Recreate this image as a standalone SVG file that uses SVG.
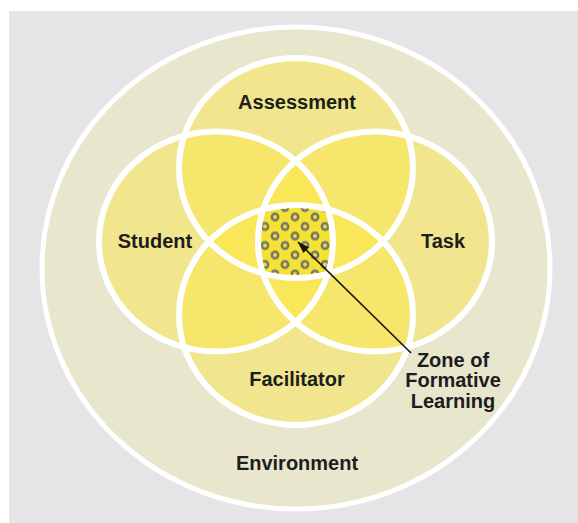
<svg xmlns="http://www.w3.org/2000/svg" width="578" height="523" viewBox="0 0 578 523">
  <defs>
    <style>
      .bg { fill: #ffffff; }
      .panel { fill: #e5e5e7; }
      .env { fill: #e8e6cd; stroke: #ffffff; stroke-width: 5; }
      .fillc { fill: #fce643; fill-opacity: 0.46; stroke: none; }
      .ring { fill: none; stroke: #ffffff; stroke-width: 6; }
      .lbl { font-family: "Liberation Sans", Arial, sans-serif; font-weight: bold; font-size: 20px; fill: #1d1d1d; text-anchor: middle; }
      .conn { stroke: #141414; stroke-width: 1.6; fill: none; }
    </style>
    <pattern id="dots" patternUnits="userSpaceOnUse" x="265" y="207.5" width="20" height="19">
      <rect width="20" height="19" fill="#f4e334"/>
      <g fill="none" stroke="#77756c" stroke-width="2.5">
        <circle cx="0" cy="0" r="3.2"/>
        <circle cx="20" cy="0" r="3.2"/>
        <circle cx="0" cy="19" r="3.2"/>
        <circle cx="20" cy="19" r="3.2"/>
        <circle cx="10" cy="9.5" r="3.2"/>
      </g>
    </pattern>
    <clipPath id="cA"><ellipse cx="296" cy="168" rx="117" ry="110"/></clipPath>
    <clipPath id="cF"><ellipse cx="296" cy="315" rx="117" ry="110"/></clipPath>
    <clipPath id="cS"><ellipse cx="216" cy="241.5" rx="117" ry="110"/></clipPath>
    <clipPath id="cT"><ellipse cx="375" cy="241.5" rx="117" ry="110"/></clipPath>
    <marker id="arrow" viewBox="0 0 12 8" refX="11.5" refY="4" markerWidth="12" markerHeight="8" markerUnits="userSpaceOnUse" orient="auto">
      <path d="M0,0 L12,4 L0,8 Z" fill="#141414"/>
    </marker>
  </defs>

  <rect class="bg" x="0" y="0" width="578" height="523"/>
  <rect class="panel" x="9" y="11" width="569" height="512"/>

  <g id="environment">
    <ellipse class="env" cx="296" cy="268" rx="254" ry="241"/>
    <text class="lbl" x="297" y="470">Environment</text>
  </g>

  <g id="fills">
    <ellipse class="fillc" cx="296" cy="168" rx="117" ry="110"/>
    <ellipse class="fillc" cx="296" cy="315" rx="117" ry="110"/>
    <ellipse class="fillc" cx="216" cy="241.5" rx="117" ry="110"/>
    <ellipse class="fillc" cx="375" cy="241.5" rx="117" ry="110"/>
  </g>

  <g id="zone">
    <g clip-path="url(#cA)"><g clip-path="url(#cF)"><g clip-path="url(#cS)"><g clip-path="url(#cT)">
      <rect x="250" y="195" width="95" height="95" fill="url(#dots)"/>
    </g></g></g></g>
  </g>

  <g id="assessment">
    <ellipse class="ring" cx="296" cy="168" rx="117" ry="110"/>
    <text class="lbl" x="297" y="109">Assessment</text>
  </g>
  <g id="facilitator">
    <ellipse class="ring" cx="296" cy="315" rx="117" ry="110"/>
    <text class="lbl" x="297" y="386">Facilitator</text>
  </g>
  <g id="student">
    <ellipse class="ring" cx="216" cy="241.5" rx="117" ry="110"/>
    <text class="lbl" x="155" y="248">Student</text>
  </g>
  <g id="task">
    <ellipse class="ring" cx="375" cy="241.5" rx="117" ry="110"/>
    <text class="lbl" x="443" y="248">Task</text>
  </g>

  <g id="zone-label">
    <text class="lbl" x="453" y="367">Zone of</text>
    <text class="lbl" x="453" y="387">Formative</text>
    <text class="lbl" x="453" y="408">Learning</text>
  </g>

  <g id="connectors">
    <line class="conn" x1="411" y1="353" x2="298" y2="242" marker-end="url(#arrow)"/>
  </g>
</svg>
